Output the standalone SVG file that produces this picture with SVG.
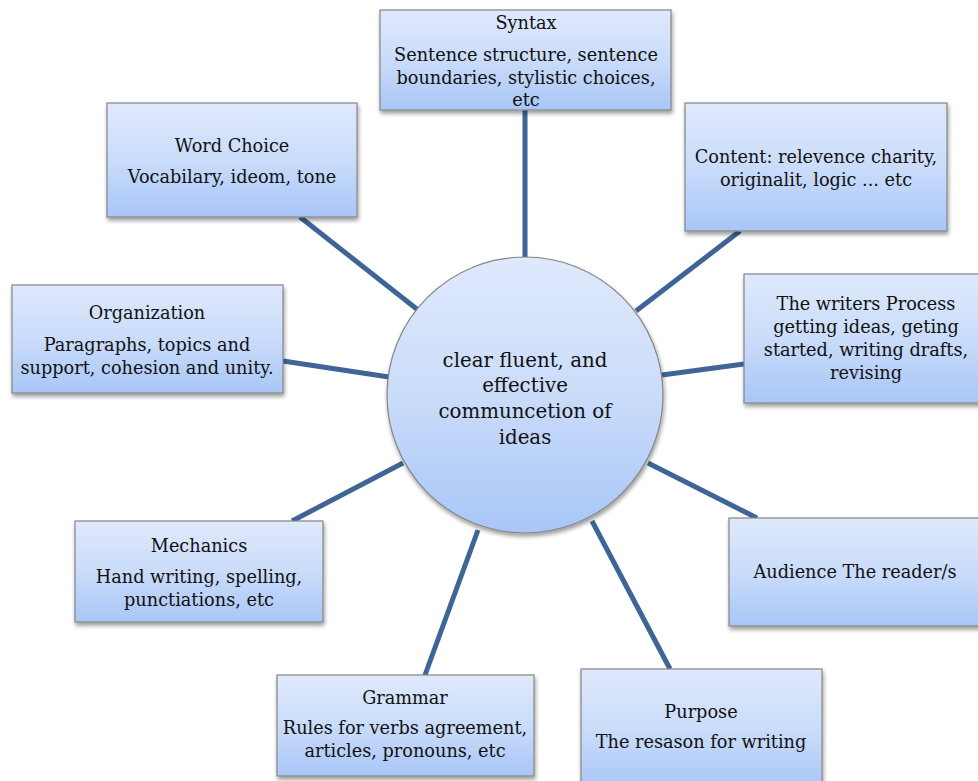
<svg xmlns="http://www.w3.org/2000/svg" width="978" height="781" viewBox="0 0 978 781">
<defs>
<linearGradient id="g" x1="0" y1="0" x2="0" y2="1">
<stop offset="0" stop-color="#dfe9fc"/>
<stop offset="0.5" stop-color="#cadcfa"/>
<stop offset="1" stop-color="#a8c6f7"/>
</linearGradient>
<filter id="sh" x="-10%" y="-10%" width="125%" height="130%">
<feGaussianBlur in="SourceAlpha" stdDeviation="2"/>
<feOffset dx="1" dy="3" result="b"/>
<feComponentTransfer><feFuncA type="linear" slope="0.4"/></feComponentTransfer>
<feMerge><feMergeNode/><feMergeNode in="SourceGraphic"/></feMerge>
</filter>
</defs>
<style>
.box{fill:url(#g);stroke:#858585;stroke-width:1.2;filter:url(#sh)}
.t{font-family:"DejaVu Serif","Liberation Serif",serif;font-size:17.7px;fill:#111;text-anchor:middle}
.c{font-size:19.8px}
.ln{stroke:#3f6597;stroke-width:5;fill:none}
</style>
<rect width="978" height="781" fill="#fff"/>
<g id="connectors">
<line class="ln" x1="525" y1="110" x2="525" y2="258"/>
<line class="ln" x1="300" y1="217" x2="418" y2="310"/>
<line class="ln" x1="740" y1="231" x2="636" y2="311"/>
<line class="ln" x1="283" y1="361" x2="389" y2="377"/>
<line class="ln" x1="662" y1="375" x2="744" y2="364"/>
<line class="ln" x1="648" y1="463" x2="757" y2="518"/>
<line class="ln" x1="292" y1="521" x2="403" y2="463"/>
<line class="ln" x1="425" y1="675" x2="478" y2="530"/>
<line class="ln" x1="592" y1="521" x2="670" y2="669"/>
</g>
<g id="center">
<circle class="box" cx="525" cy="395" r="138"/>
<text class="t c" x="525" y="367">clear fluent, and</text>
<text class="t c" x="525" y="392">effective</text>
<text class="t c" x="525" y="418">communcetion of</text>
<text class="t c" x="525" y="444">ideas</text>
</g>
<g id="syntax">
<rect class="box" x="380" y="10" width="291" height="100"/>
<text class="t" x="526" y="29">Syntax</text>
<text class="t" x="526" y="61">Sentence structure, sentence</text>
<text class="t" x="526" y="84">boundaries, stylistic choices,</text>
<text class="t" x="526" y="106">etc</text>
</g>
<g id="wordchoice">
<rect class="box" x="107" y="103" width="250" height="114"/>
<text class="t" x="232" y="152">Word Choice</text>
<text class="t" x="232" y="183">Vocabilary, ideom, tone</text>
</g>
<g id="content">
<rect class="box" x="685" y="103" width="262" height="128"/>
<text class="t" x="816" y="163">Content: relevence charity,</text>
<text class="t" x="816" y="186">originalit, logic ... etc</text>
</g>
<g id="organization">
<rect class="box" x="12" y="285" width="271" height="108"/>
<text class="t" x="147" y="319">Organization</text>
<text class="t" x="147" y="351">Paragraphs, topics and</text>
<text class="t" x="147" y="374">support, cohesion and unity.</text>
</g>
<g id="writers">
<rect class="box" x="744" y="274" width="240" height="129"/>
<text class="t" x="866" y="310">The writers Process</text>
<text class="t" x="866" y="333">getting ideas, geting</text>
<text class="t" x="866" y="356">started, writing drafts,</text>
<text class="t" x="866" y="379">revising</text>
</g>
<g id="audience">
<rect class="box" x="729" y="518" width="255" height="108"/>
<text class="t" x="855" y="578">Audience The reader/s</text>
</g>
<g id="mechanics">
<rect class="box" x="75" y="521" width="248" height="101"/>
<text class="t" x="199" y="552">Mechanics</text>
<text class="t" x="199" y="583">Hand writing, spelling,</text>
<text class="t" x="199" y="606">punctiations, etc</text>
</g>
<g id="grammar">
<rect class="box" x="277" y="675" width="257" height="101"/>
<text class="t" x="405" y="704">Grammar</text>
<text class="t" x="405" y="734">Rules for verbs agreement,</text>
<text class="t" x="405" y="757">articles, pronouns, etc</text>
</g>
<g id="purpose">
<rect class="box" x="581" y="669" width="241" height="120"/>
<text class="t" x="701" y="718">Purpose</text>
<text class="t" x="701" y="748">The resason for writing</text>
</g>
</svg>
